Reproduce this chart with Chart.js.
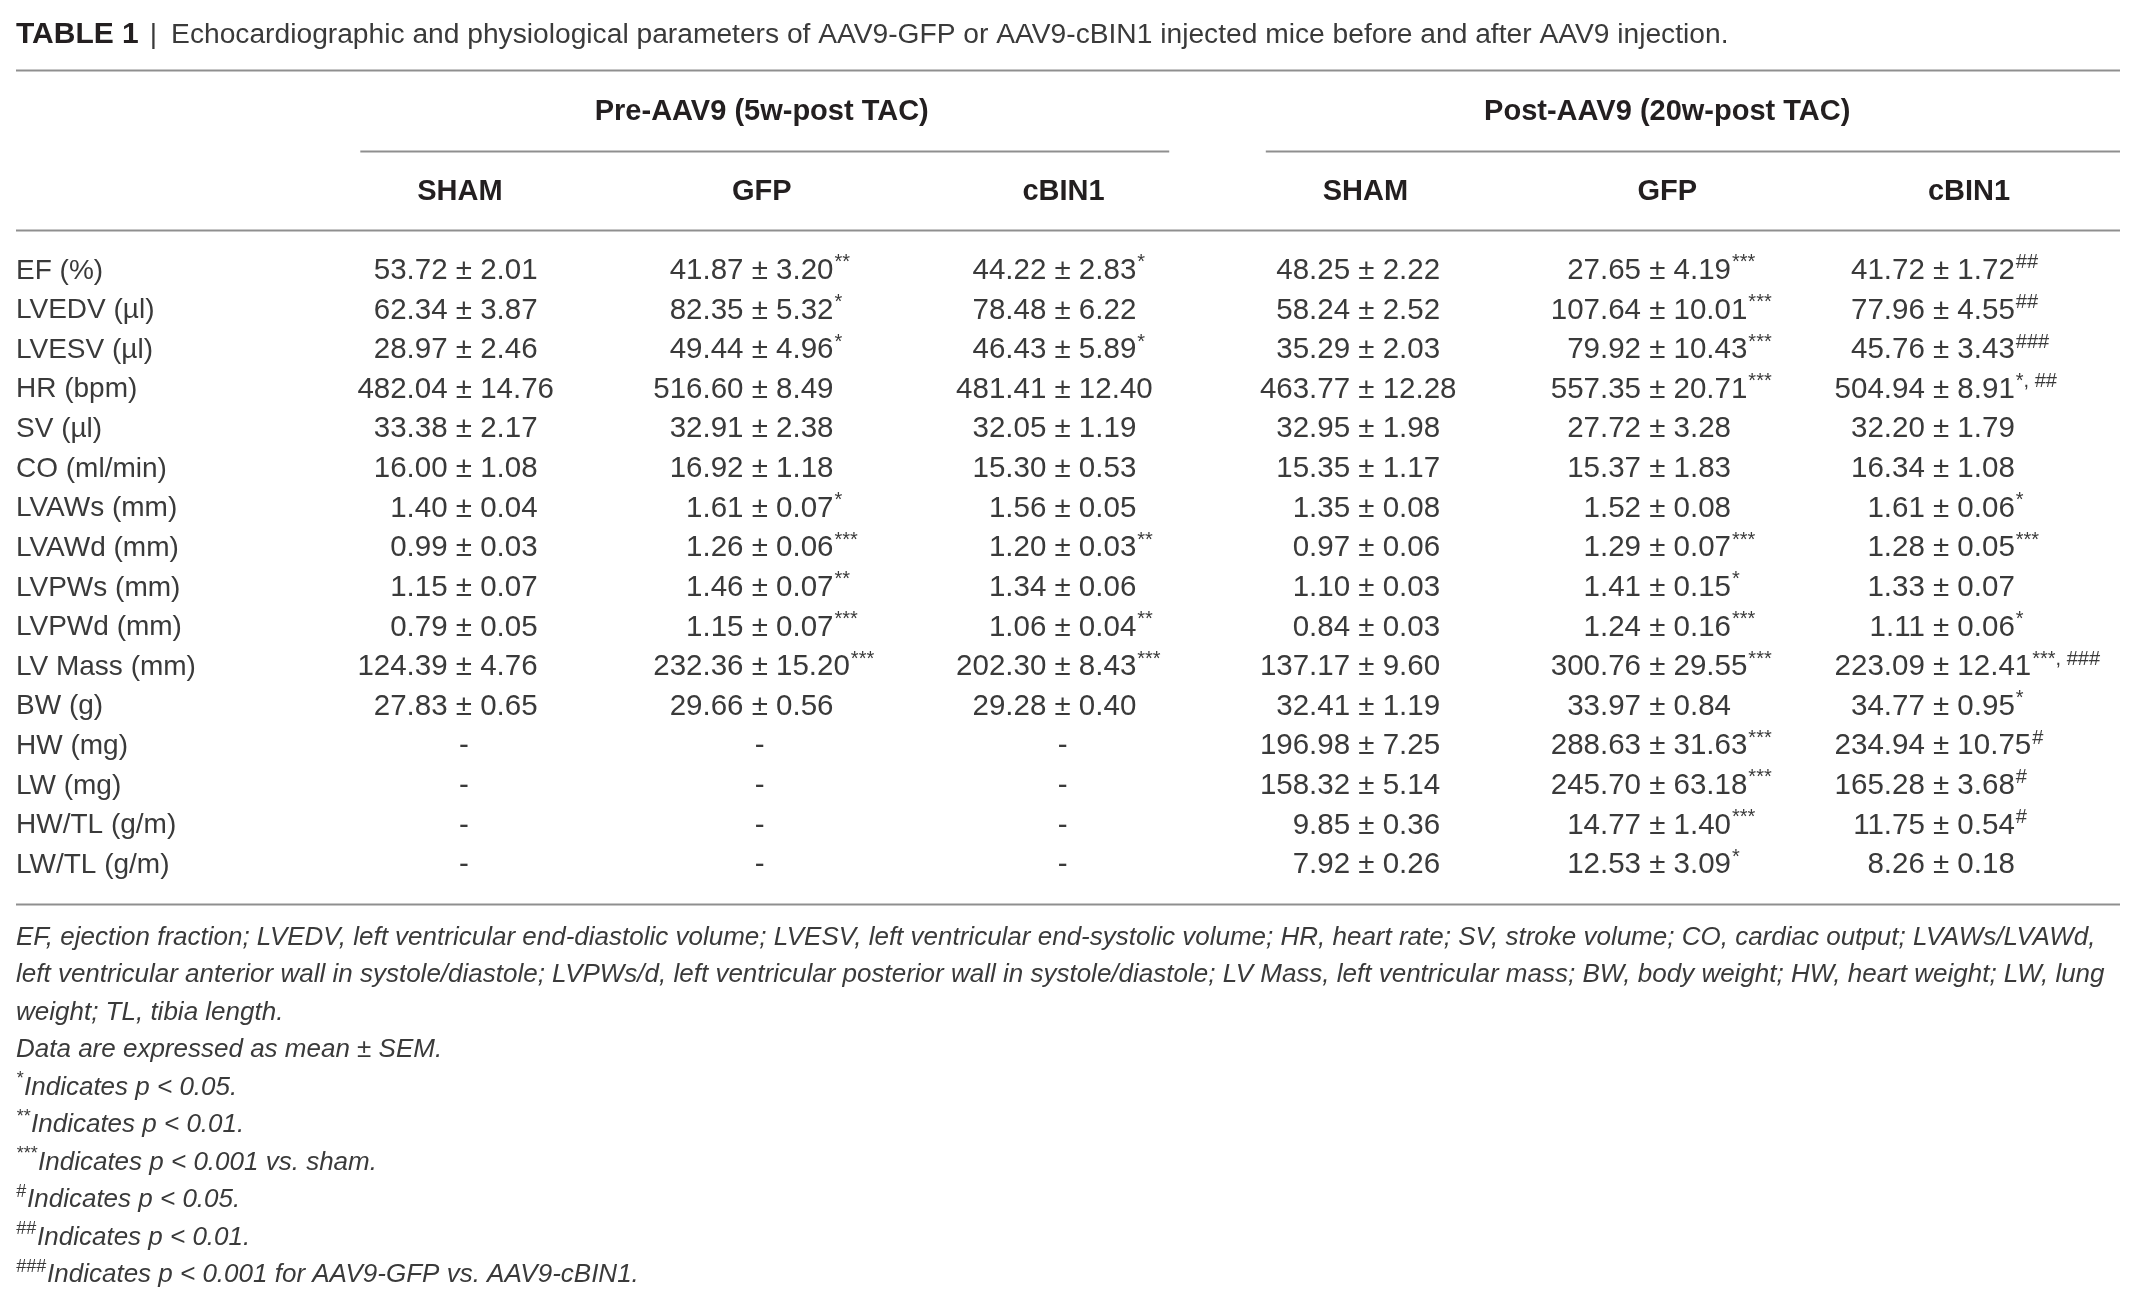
<!DOCTYPE html>
<html>
<head>
<meta charset="utf-8">
<script src="https://cdn.jsdelivr.net/npm/chart.js@4.4.1/dist/chart.umd.min.js"></script>
<style>
  html, body { margin: 0; background: #fff; }
  #wrap { width: 2135px; height: 1305px; position: relative; }
</style>
</head>
<body>
<div id="wrap"><canvas id="table1"></canvas></div>
<script>
const tableLabel = 'TABLE 1'
const title = 'Echocardiographic and physiological parameters of AAV9-GFP or AAV9-cBIN1 injected mice before and after AAV9 injection.'
const groups = ['Pre-AAV9 (5w-post TAC)', 'Post-AAV9 (20w-post TAC)']
const columns = ['SHAM', 'GFP', 'cBIN1', 'SHAM', 'GFP', 'cBIN1']
const params = ['EF (%)', 'LVEDV (µl)', 'LVESV (µl)', 'HR (bpm)', 'SV (µl)', 'CO (ml/min)',
  'LVAWs (mm)', 'LVAWd (mm)', 'LVPWs (mm)', 'LVPWd (mm)', 'LV Mass (mm)', 'BW (g)',
  'HW (mg)', 'LW (mg)', 'HW/TL (g/m)', 'LW/TL (g/m)']

// pre-AAV9 (5w post TAC)
const preShamMean = [53.72, 62.34, 28.97, 482.04, 33.38, 16.00, 1.40, 0.99, 1.15, 0.79, 124.39, 27.83, null, null, null, null]
const preShamSem = [2.01, 3.87, 2.46, 14.76, 2.17, 1.08, 0.04, 0.03, 0.07, 0.05, 4.76, 0.65, null, null, null, null]
const preShamSig = ['', '', '', '', '', '', '', '', '', '', '', '', '', '', '', '']
const preGfpMean = [41.87, 82.35, 49.44, 516.60, 32.91, 16.92, 1.61, 1.26, 1.46, 1.15, 232.36, 29.66, null, null, null, null]
const preGfpSem = [3.20, 5.32, 4.96, 8.49, 2.38, 1.18, 0.07, 0.06, 0.07, 0.07, 15.20, 0.56, null, null, null, null]
const preGfpSig = ['**', '*', '*', '', '', '', '*', '***', '**', '***', '***', '', '', '', '', '']
const preCbinMean = [44.22, 78.48, 46.43, 481.41, 32.05, 15.30, 1.56, 1.20, 1.34, 1.06, 202.30, 29.28, null, null, null, null]
const preCbinSem = [2.83, 6.22, 5.89, 12.40, 1.19, 0.53, 0.05, 0.03, 0.06, 0.04, 8.43, 0.40, null, null, null, null]
const preCbinSig = ['*', '', '*', '', '', '', '', '**', '', '**', '***', '', '', '', '', '']

// post-AAV9 (20w post TAC)
const postShamMean = [48.25, 58.24, 35.29, 463.77, 32.95, 15.35, 1.35, 0.97, 1.10, 0.84, 137.17, 32.41, 196.98, 158.32, 9.85, 7.92]
const postShamSem = [2.22, 2.52, 2.03, 12.28, 1.98, 1.17, 0.08, 0.06, 0.03, 0.03, 9.60, 1.19, 7.25, 5.14, 0.36, 0.26]
const postShamSig = ['', '', '', '', '', '', '', '', '', '', '', '', '', '', '', '']
const postGfpMean = [27.65, 107.64, 79.92, 557.35, 27.72, 15.37, 1.52, 1.29, 1.41, 1.24, 300.76, 33.97, 288.63, 245.70, 14.77, 12.53]
const postGfpSem = [4.19, 10.01, 10.43, 20.71, 3.28, 1.83, 0.08, 0.07, 0.15, 0.16, 29.55, 0.84, 31.63, 63.18, 1.40, 3.09]
const postGfpSig = ['***', '***', '***', '***', '', '', '', '***', '*', '***', '***', '', '***', '***', '***', '*']
const postCbinMean = [41.72, 77.96, 45.76, 504.94, 32.20, 16.34, 1.61, 1.28, 1.33, 1.11, 223.09, 34.77, 234.94, 165.28, 11.75, 8.26]
const postCbinSem = [1.72, 4.55, 3.43, 8.91, 1.79, 1.08, 0.06, 0.05, 0.07, 0.06, 12.41, 0.95, 10.75, 3.68, 0.54, 0.18]
const postCbinSig = ['##', '##', '###', '*, ##', '', '', '*', '***', '', '*', '***, ###', '*', '#', '#', '#', '']

const noteMarks = ['', '', '', '', '*', '**', '***', '#', '##', '###']
const notes = [
  'EF, ejection fraction; LVEDV, left ventricular end-diastolic volume; LVESV, left ventricular end-systolic volume; HR, heart rate; SV, stroke volume; CO, cardiac output; LVAWs/LVAWd,',
  'left ventricular anterior wall in systole/diastole; LVPWs/d, left ventricular posterior wall in systole/diastole; LV Mass, left ventricular mass; BW, body weight; HW, heart weight; LW, lung',
  'weight; TL, tibia length.',
  'Data are expressed as mean ± SEM.',
  'Indicates p < 0.05.',
  'Indicates p < 0.01.',
  'Indicates p < 0.001 vs. sham.',
  'Indicates p < 0.05.',
  'Indicates p < 0.01.',
  'Indicates p < 0.001 for AAV9-GFP vs. AAV9-cBIN1.'
]

const cells = [
  [preShamMean, preShamSem, preShamSig],
  [preGfpMean, preGfpSem, preGfpSig],
  [preCbinMean, preCbinSem, preCbinSig],
  [postShamMean, postShamSem, postShamSig],
  [postGfpMean, postGfpSem, postGfpSig],
  [postCbinMean, postCbinSem, postCbinSig]
]

const FONT = "'Liberation Sans', Arial, sans-serif"
const TEXT = '#3a3a3a'
const DARK = '#231f20'
const RULE = '#8f8f8f'
// the ± of each value column sits a little off the header centre
const cellShift = [4, -2, -1, 1, -10, -28]

const tablePlugin = {
  id: 'tableCells',
  afterDraw(chart) {
    const {ctx, chartArea, scales: {x, y}} = chart
    const row0 = y.getPixelForValue(0)
    const step = y.getPixelForValue(1) - row0
    const last = y.getPixelForValue(params.length - 1)
    const left = chart.options.layout.padding.left
    const right = chartArea.right

    ctx.save()
    // rules
    ctx.strokeStyle = RULE
    ctx.lineWidth = 2
    const hline = (x1, x2, yy) => {
      ctx.beginPath()
      ctx.moveTo(x1, Math.round(yy) + 0.5)
      ctx.lineTo(x2, Math.round(yy) + 0.5)
      ctx.stroke()
    }
    hline(left, right, row0 - 5.07 * step)
    hline(x.getPixelForValue(-0.33), x.getPixelForValue(2.35), row0 - 3.03 * step)
    hline(x.getPixelForValue(2.67), right, row0 - 3.03 * step)
    hline(left, right, row0 - 1.03 * step)
    hline(left, right, last + 0.98 * step)

    // title
    ctx.textBaseline = 'middle'
    ctx.textAlign = 'left'
    const ty = row0 - 5.95 * step
    ctx.fillStyle = DARK
    ctx.font = 'bold 30px ' + FONT
    ctx.fillText(tableLabel, left, ty)
    let tx = left + ctx.measureText(tableLabel).width + 11
    ctx.font = '28.2px ' + FONT
    ctx.fillStyle = TEXT
    ctx.fillText('|', tx, ty)
    tx += ctx.measureText('|').width + 14
    ctx.fillText(title, tx, ty)

    // group headers
    ctx.font = 'bold 29px ' + FONT
    ctx.fillStyle = DARK
    ctx.textAlign = 'center'
    ctx.fillText(groups[0], x.getPixelForValue(1), row0 - 4.0 * step)
    ctx.fillText(groups[1], x.getPixelForValue(4), row0 - 4.0 * step)

    // cells, aligned on the ± sign
    ctx.fillStyle = TEXT
    cells.forEach(([means, sems, sigs], c) => {
      const cx = x.getPixelForValue(c) + cellShift[c]
      means.forEach((m, r) => {
        const cy = y.getPixelForValue(r)
        ctx.font = '29.5px ' + FONT
        if (m === null) {
          ctx.textAlign = 'center'
          ctx.fillText('-', cx, cy)
          return
        }
        const pm = ctx.measureText('±').width
        ctx.textAlign = 'right'
        ctx.fillText(m.toFixed(2) + ' ', cx - pm / 2, cy)
        ctx.textAlign = 'center'
        ctx.fillText('±', cx, cy)
        ctx.textAlign = 'left'
        const semText = ' ' + sems[r].toFixed(2)
        ctx.fillText(semText, cx + pm / 2, cy)
        if (sigs[r]) {
          const sx = cx + pm / 2 + ctx.measureText(semText).width + 1
          ctx.font = '20px ' + FONT
          ctx.fillText(sigs[r], sx, cy - 8)
        }
      })
    })

    // footnotes
    ctx.textAlign = 'left'
    const fy0 = last + 1.83 * step
    const fstep = 0.945 * step
    notes.forEach((line, i) => {
      const fy = fy0 + i * fstep
      let fx = left
      if (noteMarks[i]) {
        ctx.font = 'italic 18px ' + FONT
        ctx.fillText(noteMarks[i], fx, fy - 8)
        fx += ctx.measureText(noteMarks[i]).width + 1
      }
      ctx.font = 'italic 26px ' + FONT
      ctx.fillText(line, fx, fy)
    })
    ctx.restore()
  }
}

new Chart(document.getElementById('table1').getContext('2d'), {
  type: 'scatter',
  data: { labels: columns, datasets: [] },
  options: {
    responsive: true,
    maintainAspectRatio: false,
    animation: false,
    events: [],
    layout: { padding: { left: 16, right: 15, top: 151, bottom: 420 } },
    plugins: { legend: { display: false }, tooltip: { enabled: false } },
    scales: {
      x: {
        type: 'category',
        labels: columns,
        position: 'top',
        offset: true,
        grid: { display: false, drawTicks: false },
        border: { display: false },
        ticks: {
          autoSkip: false,
          maxRotation: 0,
          padding: 42,
          color: DARK,
          font: { family: FONT, size: 29, weight: 'bold' }
        },
        afterFit: (scale) => { scale.height = 100 }
      },
      y: {
        type: 'category',
        labels: params,
        offset: true,
        grid: { display: false, drawTicks: false },
        border: { display: false },
        ticks: {
          autoSkip: false,
          crossAlign: 'far',
          padding: 0,
          color: TEXT,
          font: { family: FONT, size: 28 }
        },
        afterFit: (scale) => { scale.width = 293 }
      }
    }
  },
  plugins: [tablePlugin]
})
</script>
</body>
</html>
